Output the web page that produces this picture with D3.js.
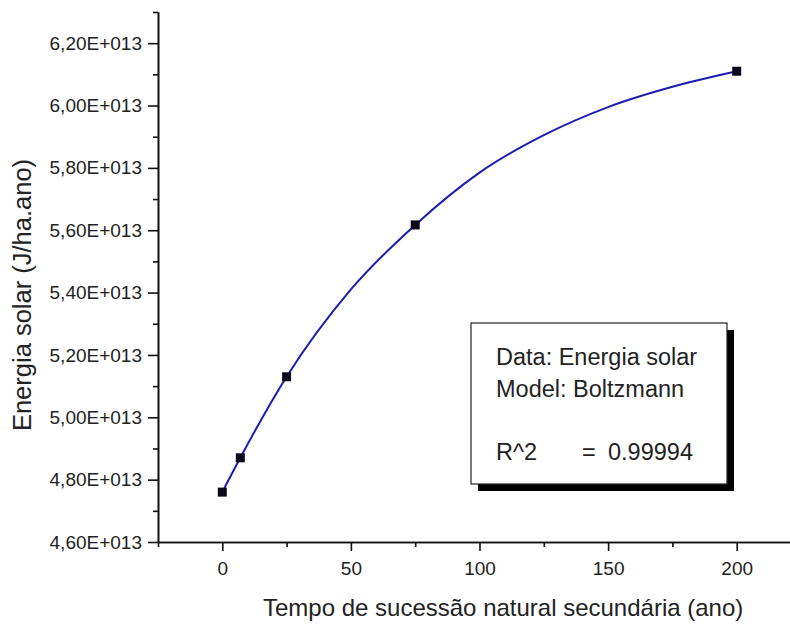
<!DOCTYPE html>
<html>
<head>
<meta charset="utf-8">
<script src="https://cdn.jsdelivr.net/npm/d3@7"></script>
<style>
  body { margin: 0; background: #fff; }
  svg { display: block; font-family: "Liberation Sans", Arial, sans-serif; }
  .axis path, .axis line { stroke: #111; stroke-width: 1.6; }
  .axis text { fill: #222; font-size: 19px; }
</style>
</head>
<body>
<svg width="790" height="626"></svg>
<script>
// donnees
var anos = [0, 7, 25, 75, 200];
var energia = [4.76e13, 4.87e13, 5.13e13, 5.617e13, 6.11e13];

// courbe ajustee (Boltzmann)
var fitAnos = [0, 7, 25, 50, 75, 100, 125, 150, 175, 200];
var fitEnergia = [4.76e13, 4.87e13, 5.13e13, 5.41e13, 5.617e13, 5.785e13, 5.905e13, 5.995e13, 6.06e13, 6.11e13];

var xTicks = [0, 50, 100, 150, 200];
var xMinor = [-25, 25, 75, 125, 175, 225];
var yTicks = [4.6e13, 4.8e13, 5.0e13, 5.2e13, 5.4e13, 5.6e13, 5.8e13, 6.0e13, 6.2e13];
var yTickLabels = ["4,60E+013", "4,80E+013", "5,00E+013", "5,20E+013", "5,40E+013", "5,60E+013", "5,80E+013", "6,00E+013", "6,20E+013"];
var yMinor = [4.7e13, 4.9e13, 5.1e13, 5.3e13, 5.5e13, 5.7e13, 5.9e13, 6.1e13, 6.3e13];

var legendLines = ["Data: Energia solar", "Model: Boltzmann"];
var r2Label = "R^2", r2Value = "0.99994";

var svg = d3.select("svg");

var x = d3.scaleLinear().domain([-25, 225]).range([158, 801]);
var y = d3.scaleLinear().domain([4.6e13, 6.3e13]).range([542, 12]);

// axe X
svg.append("g")
    .attr("class", "axis")
    .attr("transform", "translate(0,542)")
    .call(d3.axisBottom(x).tickValues(xMinor).tickSize(5).tickFormat("").tickSizeOuter(0));
svg.append("g")
    .attr("class", "axis")
    .attr("transform", "translate(0,542)")
    .call(d3.axisBottom(x).tickValues(xTicks).tickSize(9).tickPadding(11).tickSizeOuter(0));

// axe Y
svg.append("g")
    .attr("class", "axis")
    .attr("transform", "translate(158,0)")
    .call(d3.axisLeft(y).tickValues(yMinor).tickSize(5).tickFormat("").tickSizeOuter(0));
svg.append("g")
    .attr("class", "axis")
    .attr("transform", "translate(158,0)")
    .call(d3.axisLeft(y).tickValues(yTicks).tickSize(10).tickPadding(6).tickSizeOuter(0)
        .tickFormat(function(d, i) { return yTickLabels[i]; }));

// titres
svg.append("text")
    .attr("x", 263)
    .attr("y", 616)
    .attr("font-size", 24)
    .attr("fill", "#222")
    .text("Tempo de sucessão natural secundária (ano)");

svg.append("text")
    .attr("transform", "translate(31,295) rotate(-90)")
    .attr("text-anchor", "middle")
    .attr("font-size", 25.5)
    .attr("fill", "#222")
    .text("Energia solar (J/ha.ano)");

// courbe
var line = d3.line()
    .x(function(d, i) { return x(fitAnos[i]); })
    .y(function(d) { return y(d); })
    .curve(d3.curveMonotoneX);

svg.append("path")
    .datum(fitEnergia)
    .attr("d", line)
    .attr("fill", "none")
    .attr("stroke", "#1c1cb0")
    .attr("stroke-width", 2);

// points
svg.selectAll(".pt")
    .data(energia)
    .enter().append("rect")
    .attr("class", "pt")
    .attr("x", function(d, i) { return x(anos[i]) - 4.5; })
    .attr("y", function(d) { return y(d) - 4.5; })
    .attr("width", 9)
    .attr("height", 9)
    .attr("fill", "#0a0a1a");

// legende
var leg = svg.append("g").attr("transform", "translate(471,323)");
leg.append("rect").attr("x", 7).attr("y", 7).attr("width", 256).attr("height", 161).attr("fill", "#000");
leg.append("rect").attr("x", 0).attr("y", 0).attr("width", 256).attr("height", 161)
    .attr("fill", "#fff").attr("stroke", "#222").attr("stroke-width", 1.2);

leg.selectAll(".lt")
    .data(legendLines)
    .enter().append("text")
    .attr("x", 25)
    .attr("y", function(d, i) { return 42 + i * 32; })
    .attr("font-size", 23.5)
    .attr("fill", "#222")
    .text(function(d) { return d; });

leg.append("text").attr("x", 25).attr("y", 137).attr("font-size", 23.5).attr("fill", "#222").text(r2Label);
leg.append("text").attr("x", 111).attr("y", 137).attr("font-size", 23.5).attr("fill", "#222").text("=");
leg.append("text").attr("x", 137).attr("y", 137).attr("font-size", 23.5).attr("fill", "#222").text(r2Value);
</script>
</body>
</html>
